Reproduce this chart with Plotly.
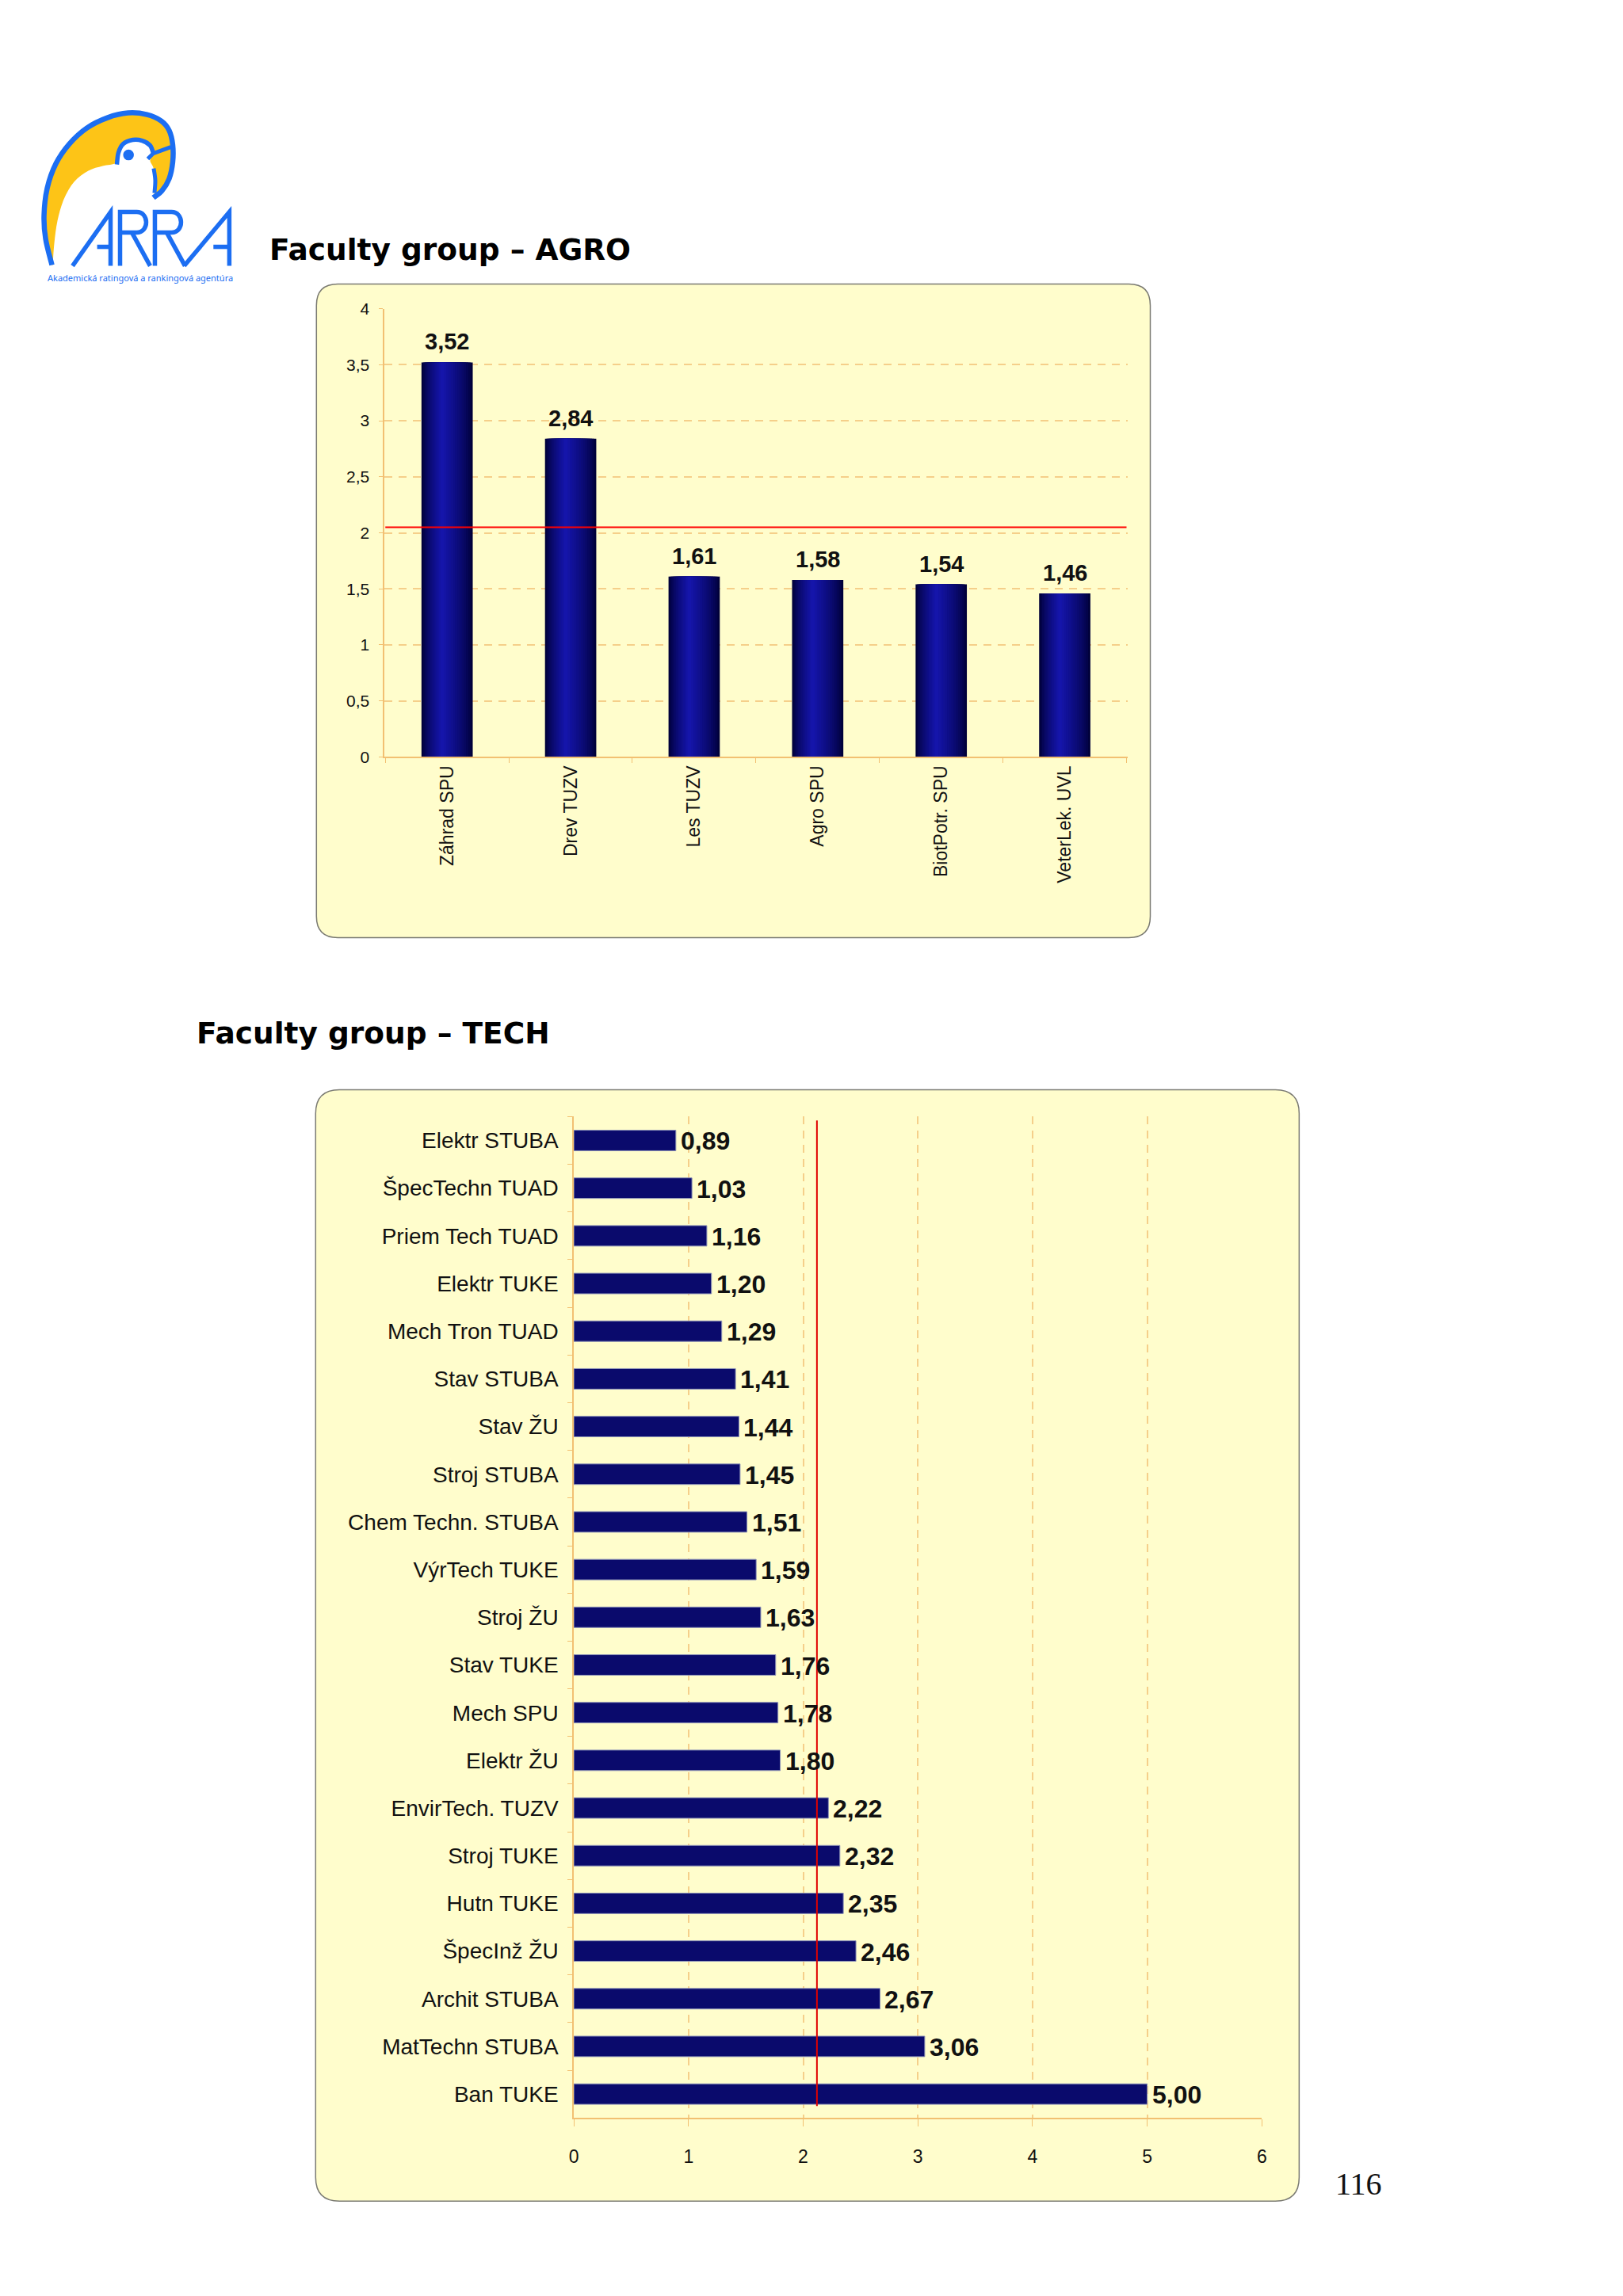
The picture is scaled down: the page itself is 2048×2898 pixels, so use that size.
import plotly.graph_objects as go

W, H = 2048, 2898

# ---------------- data ----------------
AGRO_CATS = ["Záhrad SPU", "Drev TUZV", "Les TUZV", "Agro SPU", "BiotPotr. SPU", "VeterLek. UVL"]
AGRO_VALS = [3.52, 2.84, 1.61, 1.58, 1.54, 1.46]
AGRO_AVG = 2.05

TECH_CATS = ["Elektr STUBA", "ŠpecTechn TUAD", "Priem Tech TUAD", "Elektr TUKE", "Mech Tron TUAD",
             "Stav STUBA", "Stav ŽU", "Stroj STUBA", "Chem Techn. STUBA", "VýrTech TUKE",
             "Stroj ŽU", "Stav TUKE", "Mech SPU", "Elektr ŽU", "EnvirTech. TUZV", "Stroj TUKE",
             "Hutn TUKE", "ŠpecInž ŽU", "Archit STUBA", "MatTechn STUBA", "Ban TUKE"]
TECH_VALS = [0.89, 1.03, 1.16, 1.20, 1.29, 1.41, 1.44, 1.45, 1.51, 1.59, 1.63, 1.76, 1.78,
             1.80, 2.22, 2.32, 2.35, 2.46, 2.67, 3.06, 5.00]
TECH_AVG = 2.12

TITLE_AGRO = "Faculty group – AGRO"
TITLE_TECH = "Faculty group – TECH"
PAGE_NO = "116"
LOGO_TEXT = "Akademická ratingová a rankingová agentúra"

# ---------------- helpers (page pixel -> paper fraction) ----------------
AX, BX = 0.9949, 4.4
AY, BY = 0.9922, 10.4

def fx(x):
    return ((x - BX) / AX) / W

def fy(y):
    return 1 - ((y - BY) / AY) / H

def pt(x, y):
    return f"{fx(x):.6f},{fy(y):.6f}"

def rrect(x0, y0, x1, y1, r):
    return (f"M {pt(x0 + r, y0)} L {pt(x1 - r, y0)} Q {pt(x1, y0)} {pt(x1, y0 + r)} "
            f"L {pt(x1, y1 - r)} Q {pt(x1, y1)} {pt(x1 - r, y1)} L {pt(x0 + r, y1)} "
            f"Q {pt(x0, y1)} {pt(x0, y1 - r)} L {pt(x0, y0 + r)} Q {pt(x0, y0)} {pt(x0 + r, y0)} Z")

def smooth(points, closed=False):
    n = len(points)
    s = f"M {pt(*points[0])}"
    for i in range(n - 1):
        p0 = points[i - 1] if i > 0 else points[i]
        p1 = points[i]
        p2 = points[i + 1]
        p3 = points[i + 2] if i + 2 < n else points[i + 1]
        c1 = (p1[0] + (p2[0] - p0[0]) / 6, p1[1] + (p2[1] - p0[1]) / 6)
        c2 = (p2[0] - (p3[0] - p1[0]) / 6, p2[1] - (p3[1] - p1[1]) / 6)
        s += f" C {pt(*c1)} {pt(*c2)} {pt(*p2)}"
    if closed:
        s += " Z"
    return s

def poly(points):
    return "M " + " L ".join(pt(*p) for p in points)

FONT = "Liberation Sans, Arial, sans-serif"
ORANGE = "#F2C072"
GRID = "#F5CF8A"
PANEL_FILL = "#FFFDCC"
PANEL_LINE = "#7A7A72"
NAVY = "#0A0A6C"
BLUE = "#1C6EF2"
YELLOW = "#FDC417"

fig = go.Figure()

# ---------------- AGRO chart (gradient bars by layered overlay) ----------------
BW = 0.415
L, R = -BW / 2, BW / 2
C = L + 0.40 * BW
N = 14
dark = (0, 0, 58)
bright = (22, 22, 176)
for i in range(N):
    t = i / N
    left = L + (C - L) * t
    right = R - (R - C) * t
    tt = t ** 0.75
    col = "rgb(%d,%d,%d)" % tuple(round(d + (b - d) * tt) for d, b in zip(dark, bright))
    fig.add_trace(go.Bar(
        x=AGRO_CATS, y=AGRO_VALS, width=right - left, offset=left,
        marker=dict(color=col, line=dict(width=0)),
        xaxis="x", yaxis="y", hoverinfo="skip", showlegend=False,
    ))

# ---------------- TECH chart ----------------
fig.add_trace(go.Bar(
    y=TECH_CATS, x=TECH_VALS, orientation="h", width=0.43,
    marker=dict(color=NAVY, line=dict(color="#8C92B8", width=1)),
    xaxis="x2", yaxis="y2", hoverinfo="skip", showlegend=False,
))

annotations = []
for c, v in zip(AGRO_CATS, AGRO_VALS):
    annotations.append(dict(
        x=c, y=v, xref="x", yref="y", text=f"{v:.2f}".replace(".", ","),
        showarrow=False, yanchor="bottom", xanchor="center", yshift=8,
        font=dict(family=FONT, size=29, color="#111111", weight="bold"),
    ))
for c, v in zip(TECH_CATS, TECH_VALS):
    annotations.append(dict(
        x=v, y=c, xref="x2", yref="y2", text=f"{v:.2f}".replace(".", ","),
        showarrow=False, yanchor="middle", xanchor="left", xshift=4, yshift=-1,
        font=dict(family=FONT, size=32, color="#111111", weight="bold"),
    ))

# titles, page number, logo subtitle
annotations += [
    dict(x=fx(337), y=fy(313), xref="paper", yref="paper", text=TITLE_AGRO, showarrow=False,
         xanchor="left", yanchor="middle",
         font=dict(family="DejaVu Sans, sans-serif", size=37.5, color="#000000", weight="bold")),
    dict(x=fx(245), y=fy(1303), xref="paper", yref="paper", text=TITLE_TECH, showarrow=False,
         xanchor="left", yanchor="middle",
         font=dict(family="DejaVu Sans, sans-serif", size=37.5, color="#000000", weight="bold")),
    dict(x=fx(1714), y=fy(2755), xref="paper", yref="paper", text=PAGE_NO, showarrow=False,
         xanchor="center", yanchor="middle",
         font=dict(family="Liberation Serif, Times New Roman, serif", size=40, color="#111111")),
    dict(x=fx(176), y=fy(349), xref="paper", yref="paper", text=LOGO_TEXT, showarrow=False,
         xanchor="center", yanchor="middle",
         font=dict(family="Noto Sans, sans-serif", size=11, color=BLUE)),
]

shapes = []
# panels
shapes.append(dict(type="path", xref="paper", yref="paper", path=rrect(398, 357, 1451, 1182, 27),
                   fillcolor=PANEL_FILL, line=dict(color=PANEL_LINE, width=1.5), layer="below"))
shapes.append(dict(type="path", xref="paper", yref="paper", path=rrect(397, 1374, 1639, 2777, 30),
                   fillcolor=PANEL_FILL, line=dict(color=PANEL_LINE, width=1.5), layer="below"))

# average lines
shapes.append(dict(type="line", xref="x", yref="y", x0=-0.5, x1=len(AGRO_CATS) - 0.5,
                   y0=AGRO_AVG, y1=AGRO_AVG, line=dict(color="#FF0000", width=2), layer="above"))
shapes.append(dict(type="line", xref="x2", yref="y2", x0=TECH_AVG, x1=TECH_AVG,
                   y0=-0.42, y1=len(TECH_CATS) - 1 + 0.25,
                   line=dict(color="#E00000", width=2), layer="above"))

# ---------------- logo ----------------
outer = [(64, 333), (56, 300), (54, 270), (58, 236), (69, 205), (86, 180), (108, 160), (134, 147),
         (160, 141), (184, 143), (202, 151), (212, 163), (216.5, 181), (216.5, 203), (212, 224),
         (203, 239), (192, 248)]
inner = [(192, 248), (194.5, 238), (193.5, 222), (192, 210), (188, 201), (191.5, 191), (187, 181),
         (177, 176), (166, 175), (154, 180), (148, 191), (145, 204), (128, 208), (110, 214),
         (92, 228), (79, 250), (71, 277), (67, 305), (65, 333)]
shapes.append(dict(type="path", xref="paper", yref="paper", path=smooth(outer + inner[1:], closed=True),
                   fillcolor=YELLOW, line=dict(width=0)))
shapes.append(dict(type="path", xref="paper", yref="paper", path=smooth(outer),
                   line=dict(color=BLUE, width=6.5)))
head = [(146, 206), (148, 191), (154, 180), (166, 175), (178, 176), (188, 182), (192, 192)]
shapes.append(dict(type="path", xref="paper", yref="paper", path=smooth(head),
                   line=dict(color=BLUE, width=5.5)))
shapes.append(dict(type="path", xref="paper", yref="paper", path=poly([(185, 199), (192, 192), (214, 184)]),
                   line=dict(color=BLUE, width=5)))
shapes.append(dict(type="path", xref="paper", yref="paper",
                   path=smooth([(192.5, 211), (194.5, 226), (193.5, 242)]),
                   line=dict(color=BLUE, width=5)))
shapes.append(dict(type="circle", xref="paper", yref="paper",
                   x0=fx(160.7 - 6.8), x1=fx(160.7 + 6.8), y0=fy(194 + 6.8), y1=fy(194 - 6.8),
                   fillcolor=BLUE, line=dict(width=0)))

# ARRA letters
def letter_A(xl, xr, top=266, bot=334, bar=310):
    xb = xr - (xr - xl) * (bot - bar) / (bot - top)
    return [poly([(xl, bot), (xr, top), (xr, bot)]), poly([(xb, bar), (xr, bar)])]

def letter_R(xs, xb, xleg, top=266, bot=334, mid=292):
    bowl = (f"M {pt(xs, bot)} L {pt(xs, top)} L {pt(xb - 12, top)} "
            f"C {pt(xb + 4, top)} {pt(xb + 4, mid)} {pt(xb - 12, mid)} L {pt(xs, mid)}")
    leg = poly([(xs + 15, mid), (xleg, bot)])
    return [bowl, leg]

letters = []
letters += letter_A(90, 138)
letters += letter_R(150, 183, 188)
letters += letter_R(194, 227, 232)
letters += letter_A(231, 288)
for p in letters:
    shapes.append(dict(type="path", xref="paper", yref="paper", path=p,
                       line=dict(color=BLUE, width=5.5)))

# ---------------- layout ----------------
axis_base = dict(showline=True, linecolor=ORANGE, linewidth=1.5, ticks="outside",
                 tickcolor=ORANGE, zeroline=False)

fig.update_layout(
    width=W, height=H, margin=dict(l=0, r=0, t=0, b=0),
    paper_bgcolor="#FFFFFF", plot_bgcolor="rgba(0,0,0,0)",
    barmode="overlay", showlegend=False, separators=",.",
    xaxis=dict(domain=[fx(484), fx(1422)], anchor="y", type="category",
               tickangle=-90, tickson="boundaries", ticklen=6, showgrid=False,
               tickfont=dict(family=FONT, size=23, color="#111111"), **axis_base),
    yaxis=dict(domain=[fy(954), fy(388)], anchor="x", range=[0, 4], dtick=0.5, ticklen=5,
               showgrid=True, gridcolor=GRID, gridwidth=1.5, griddash="10px,8px",
               ticklabelstandoff=8,
               tickfont=dict(family=FONT, size=21, color="#111111"), **axis_base),
    xaxis2=dict(domain=[fx(723), fx(1592)], anchor="y2", range=[0, 6], dtick=1, ticklen=9,
                showgrid=True, gridcolor=GRID, gridwidth=1.5, griddash="10px,8px",
                ticklabelstandoff=18,
                tickfont=dict(family=FONT, size=23, color="#111111"), **axis_base),
    yaxis2=dict(domain=[fy(2672), fy(1408)], anchor="x2", type="category", autorange="reversed",
                tickson="boundaries", ticklen=6, showgrid=False, ticklabelstandoff=12,
                tickfont=dict(family=FONT, size=28, color="#111111"), **axis_base),
    annotations=annotations,
    shapes=shapes,
)

fig.write_html("out.html", config={"displayModeBar": False},
               post_script="document.body.style.margin='0';document.body.style.overflow='hidden';")
